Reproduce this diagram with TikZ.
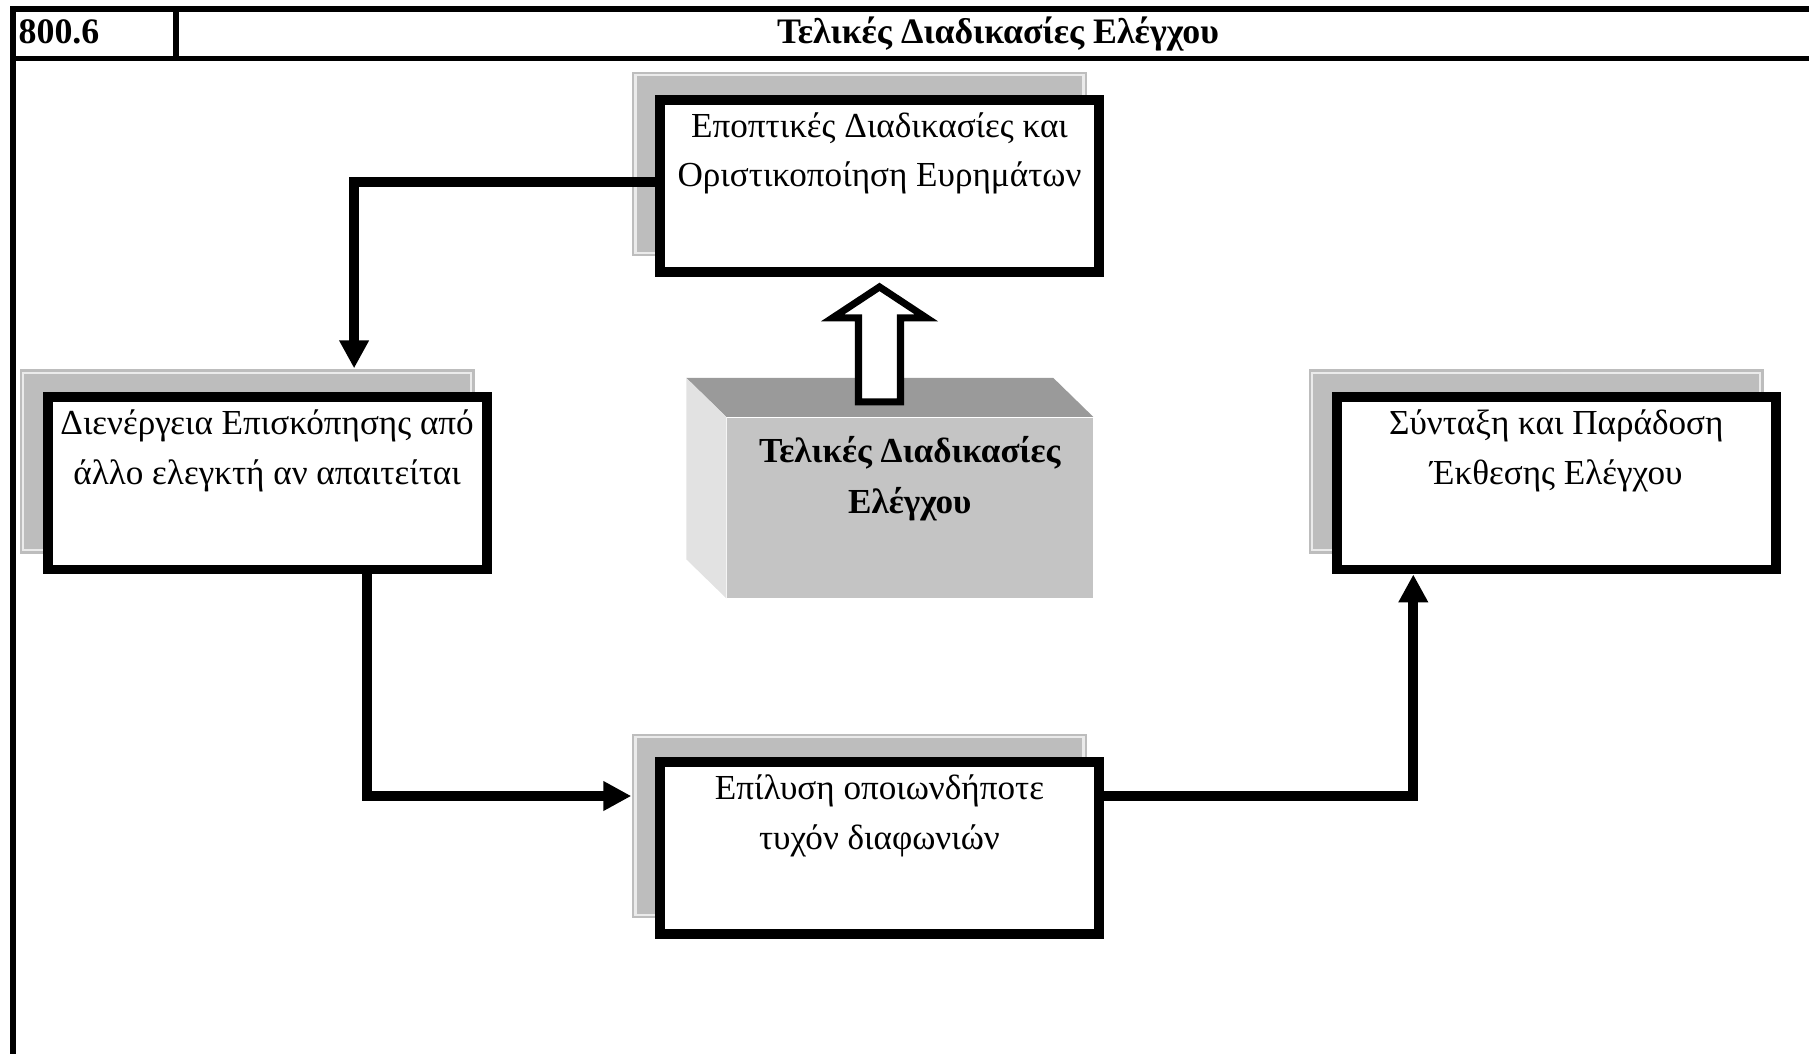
\documentclass[tikz,border=0pt]{standalone}
\usepackage{fontspec}
\setmainfont{Liberation Serif}
\usepackage{xcolor}
\definecolor{shade}{HTML}{BDBDBD}
\definecolor{topface}{HTML}{9A9A9A}
\definecolor{frontface}{HTML}{C4C4C4}
\definecolor{sideface}{HTML}{E2E2E2}
\usetikzlibrary{arrows.meta,positioning,calc}
\tikzset{
  >={Triangle[length=2.8mm,width=2.8mm]},
  box/.style={draw=black,line width=2.8pt,fill=white,minimum width=4.39cm,minimum height=1.724cm,inner sep=0pt,font=\fontsize{10}{14.2}\selectfont},
  shbox/.style={fill=shade,minimum width=4.55cm,minimum height=1.845cm,inner sep=0pt,
    path picture={\draw[white!70!shade,line width=0.6pt] ([shift={(0.035,-0.035)}]path picture bounding box.north west) rectangle ([shift={(-0.035,0.035)}]path picture bounding box.south east);}},
  cube/.style={fill=frontface,minimum width=3.656cm,minimum height=1.8cm,inner sep=0pt,font=\fontsize{10}{14.4}\selectfont\bfseries},
  hdr/.style={font=\fontsize{10.2}{12}\selectfont\bfseries,inner sep=0pt},
  frame/.style={draw=black,line width=1.7pt},
  arr/.style={->,draw=black,line width=2.8pt},
  hollow/.style={draw=black,line width=2pt,fill=white,line join=miter},
}
\newcommand{\boxtxt}[2]{\parbox[c][#1][t]{4.3cm}{\centering #2}}

\begin{document}
\begin{tikzpicture}
\useasboundingbox (0,0) rectangle (18.09,-10.53);
% header frame
\draw[frame] (0.133,-10.7) -- (0.133,-0.093) -- (18.3,-0.093);
\draw[frame] (0.133,-0.585) -- (18.3,-0.585);
\draw[frame] (1.76,-0.093) -- (1.76,-0.585);
\node[hdr,anchor=base west] (num) at (0.18,-0.435) {800.6};
\node[hdr,anchor=base] (title) at (9.98,-0.435) {Τελικές Διαδικασίες Ελέγχου};
% shadows
\node[shbox] (epo-sh) at (8.595,-1.638) {};
\node[shbox] (rev-sh) at (2.471,-4.613) {};
\node[shbox] (syn-sh) at (15.363,-4.613) {};
\node[shbox] (epi-sh) at (8.595,-8.26) {};
% steps
\node[box] (epo) at (8.795,-1.858) {\boxtxt{1.47cm}{Εποπτικές Διαδικασίες και\\Οριστικοποίηση Ευρημάτων}};
\node[box] (rev) at (2.671,-4.833) {\boxtxt{1.47cm}{Διενέργεια Επισκόπησης από\\άλλο ελεγκτή αν απαιτείται}};
\node[box] (syn) at (15.563,-4.833) {\boxtxt{1.47cm}{Σύνταξη και Παράδοση\\Έκθεσης Ελέγχου}};
\node[box] (epi) at (8.795,-8.48) {\boxtxt{1.47cm}{Επίλυση οποιωνδήποτε\\τυχόν διαφωνιών}};
% 3d block
\node[cube] (core) at (9.098,-5.076) {\parbox[c][1.42cm][t]{3.6cm}{\centering Τελικές Διαδικασίες\\Ελέγχου}};
\fill[topface] (core.north west) -- (core.north east) -- ++(-0.40,0.39) -- ($(core.north west)+(-0.40,0.39)$) -- cycle;
\fill[sideface] (core.north west) -- (core.south west) -- ++(-0.40,0.39) -- ($(core.north west)+(-0.40,0.39)$) -- cycle;
\coordinate (tip) at ($(epo.south)+(0,-0.1)$);
\draw[hollow] (tip) -- ++(0.47,-0.31) -- ++(-0.26,0) -- ++(0,-0.84) -- ++(-0.42,0) -- ++(0,0.84) -- ++(-0.26,0) -- cycle;
% connectors
\draw[arr] ([yshift=0.04cm]epo.west) -| ([xshift=1.07cm]rev-sh.north);
\draw[arr] ([xshift=1cm]rev.south) |- ([yshift=0.3cm]epi-sh.west);
\draw[arr] ([yshift=0.52cm]epi.east) -| ([xshift=-1.43cm]syn.south);
\end{tikzpicture}
\end{document}
